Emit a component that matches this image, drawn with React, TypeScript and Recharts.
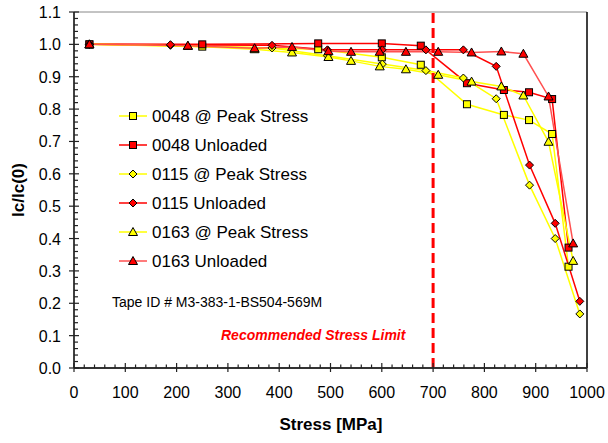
import React from "react";
import { LineChart, Line, XAxis, YAxis, ReferenceLine } from "recharts";

// 0048 tape
const x0048 = [30, 250, 476, 600, 676, 766, 838, 887, 932, 964];
const peak0048 = [1.0, 0.993, 0.985, 0.96, 0.937, 0.815, 0.782, 0.766, 0.723, 0.313];
const unl0048 = [1.0, 1.0, 1.003, 1.003, 0.996, 0.88, 0.859, 0.852, 0.831, 0.372];

// 0115 tape
const x0115 = [30, 188, 386, 494, 601, 686, 759, 823, 888, 938, 986];
const peak0115 = [1.0, 0.997, 0.989, 0.965, 0.939, 0.919, 0.896, 0.832, 0.565, 0.4, 0.167];
const unl0115 = [1.0, 0.999, 0.997, 0.983, 0.983, 0.983, 0.983, 0.932, 0.627, 0.447, 0.206];

// 0163 tape
const x0163 = [30, 222, 352, 425, 496, 540, 596, 647, 710, 775, 833, 876, 925, 973];
const peak0163 = [1.0, 0.995, 0.985, 0.975, 0.961, 0.949, 0.932, 0.923, 0.906, 0.885, 0.87, 0.842, 0.699, 0.331];
const unl0163 = [1.0, 0.996, 0.988, 0.992, 0.979, 0.977, 0.977, 0.977, 0.977, 0.975, 0.978, 0.971, 0.839, 0.385];

const xTicks = Array.from({ length: 51 }, (_, i) => i * 20);
const yTicks = Array.from({ length: 56 }, (_, i) => Math.round(i * 2) / 100);

const stressLimit = 700;
const tapeId = "Tape ID # M3-383-1-BS504-569M";

const FONT = "'Liberation Sans', Arial, sans-serif";
const YELLOW = "#FFFF00";
const RED = "#FF0000";

const pts = (xs: number[], ys: number[]) => xs.map((x, i) => ({ x, y: ys[i] }));

type Shape = "square" | "diamond" | "triangle";

const marker = (shape: Shape, fill: string, cx: number, cy: number, key?: any) => {
  if (shape === "square")
    return <rect key={key} x={cx - 3.5} y={cy - 3.5} width={7} height={7} fill={fill} stroke="#000" strokeWidth={1} />;
  if (shape === "diamond")
    return (
      <path key={key} d={`M${cx},${cy - 4}L${cx + 4},${cy}L${cx},${cy + 4}L${cx - 4},${cy}Z`} fill={fill} stroke="#000" strokeWidth={1} />
    );
  return (
    <path key={key} d={`M${cx},${cy - 4.5}L${cx + 4.5},${cy + 3.5}L${cx - 4.5},${cy + 3.5}Z`} fill={fill} stroke="#000" strokeWidth={1} />
  );
};

const series = [
  { name: "0048 @ Peak Stress", data: pts(x0048, peak0048), line: YELLOW, fill: YELLOW, shape: "square" as Shape },
  { name: "0048 Unloaded", data: pts(x0048, unl0048), line: RED, fill: RED, shape: "square" as Shape },
  { name: "0115 @ Peak Stress", data: pts(x0115, peak0115), line: YELLOW, fill: YELLOW, shape: "diamond" as Shape },
  { name: "0115 Unloaded", data: pts(x0115, unl0115), line: RED, fill: RED, shape: "diamond" as Shape },
  { name: "0163 @ Peak Stress", data: pts(x0163, peak0163), line: YELLOW, fill: YELLOW, shape: "triangle" as Shape },
  { name: "0163 Unloaded", data: pts(x0163, unl0163), line: "#FF5050", fill: RED, shape: "triangle" as Shape },
];

const XTick = (props: any) => {
  const { x, y, payload } = props;
  const v = payload.value;
  const major = Math.round(v) % 100 === 0;
  return (
    <g>
      <line x1={x} x2={x} y1={y - (major ? 5 : 3.5)} y2={y + (major ? 4 : 0)} stroke="#222" strokeWidth={1.2} />
      {major && (
        <text x={x} y={y + 30} textAnchor="middle" fontSize={16} fontFamily={FONT} fill="#000">
          {v}
        </text>
      )}
    </g>
  );
};

const YTick = (props: any) => {
  const { x, y, payload } = props;
  const v = payload.value;
  const major = Math.abs(v * 10 - Math.round(v * 10)) < 1e-6;
  return (
    <g>
      <line x1={x - (major ? 5 : 0)} x2={x + (major ? 5 : 4)} y1={y} y2={y} stroke="#222" strokeWidth={1.2} />
      {major && (
        <text x={x - 13} y={y + 6} textAnchor="end" fontSize={16} fontFamily={FONT} fill="#000">
          {v.toFixed(1)}
        </text>
      )}
    </g>
  );
};

const App = () => {
  return (
    <div style={{ position: "absolute", left: 0, top: 0, width: 608, height: 443, background: "#fff" }}>
      <LineChart width={608} height={443} margin={{ top: 12, right: 21, left: 0, bottom: 0 }}>
        <XAxis
          type="number"
          dataKey="x"
          domain={[0, 1000]}
          ticks={xTicks}
          interval={0}
          tick={<XTick />}
          tickLine={false}
          tickSize={0}
          tickMargin={0}
          axisLine={{ stroke: "#333", strokeWidth: 2 }}
          height={75}
          allowDuplicatedCategory={false}
        />
        <YAxis
          type="number"
          dataKey="y"
          domain={[0, 1.1]}
          ticks={yTicks}
          interval={0}
          tick={<YTick />}
          tickLine={false}
          tickSize={0}
          tickMargin={0}
          axisLine={{ stroke: "#000", strokeWidth: 1.5 }}
          width={74}
        />
        <ReferenceLine y={1.1} stroke="#888" strokeWidth={1} />
        <ReferenceLine x={1000} stroke="#000" strokeWidth={1.5} />
        {series.map((s) => (
          <Line
            key={s.name}
            data={s.data}
            dataKey="y"
            name={s.name}
            stroke={s.line}
            strokeWidth={1.5}
            isAnimationActive={false}
            dot={(p: any) => marker(s.shape, s.fill, p.cx, p.cy, `${s.name}-${p.index}`)}
            activeDot={false}
          />
        ))}
        <ReferenceLine x={stressLimit} stroke={RED} strokeWidth={3} strokeDasharray="10 5" />
      </LineChart>
      <svg width={608} height={443} style={{ position: "absolute", left: 0, top: 0, pointerEvents: "none" }}>
        {series.map((s, i) => {
          const cy = 116 + i * 29;
          return (
            <g key={s.name}>
              <line x1={119} x2={147} y1={cy} y2={cy} stroke={s.line} strokeWidth={1.5} />
              {marker(s.shape, s.fill, 133, cy)}
              <text x={152} y={cy + 6} fontSize={17} fontFamily={FONT} fill="#000">
                {s.name}
              </text>
            </g>
          );
        })}
        <text x={112} y={307} fontSize={14} fontFamily={FONT} fill="#000">
          {tapeId}
        </text>
        <text x={221} y={340} fontSize={14} fontWeight="bold" fontStyle="italic" fontFamily={FONT} fill={RED}>
          Recommended Stress Limit
        </text>
        <text x={331} y={430} textAnchor="middle" fontSize={17} fontWeight="bold" fontFamily={FONT} fill="#000">
          Stress [MPa]
        </text>
        <text
          x={0}
          y={0}
          transform="translate(24,190) rotate(-90)"
          textAnchor="middle"
          fontSize={17}
          fontWeight="bold"
          fontFamily={FONT}
          fill="#000"
        >
          Ic/Ic(0)
        </text>
      </svg>
    </div>
  );
};

export default App;
